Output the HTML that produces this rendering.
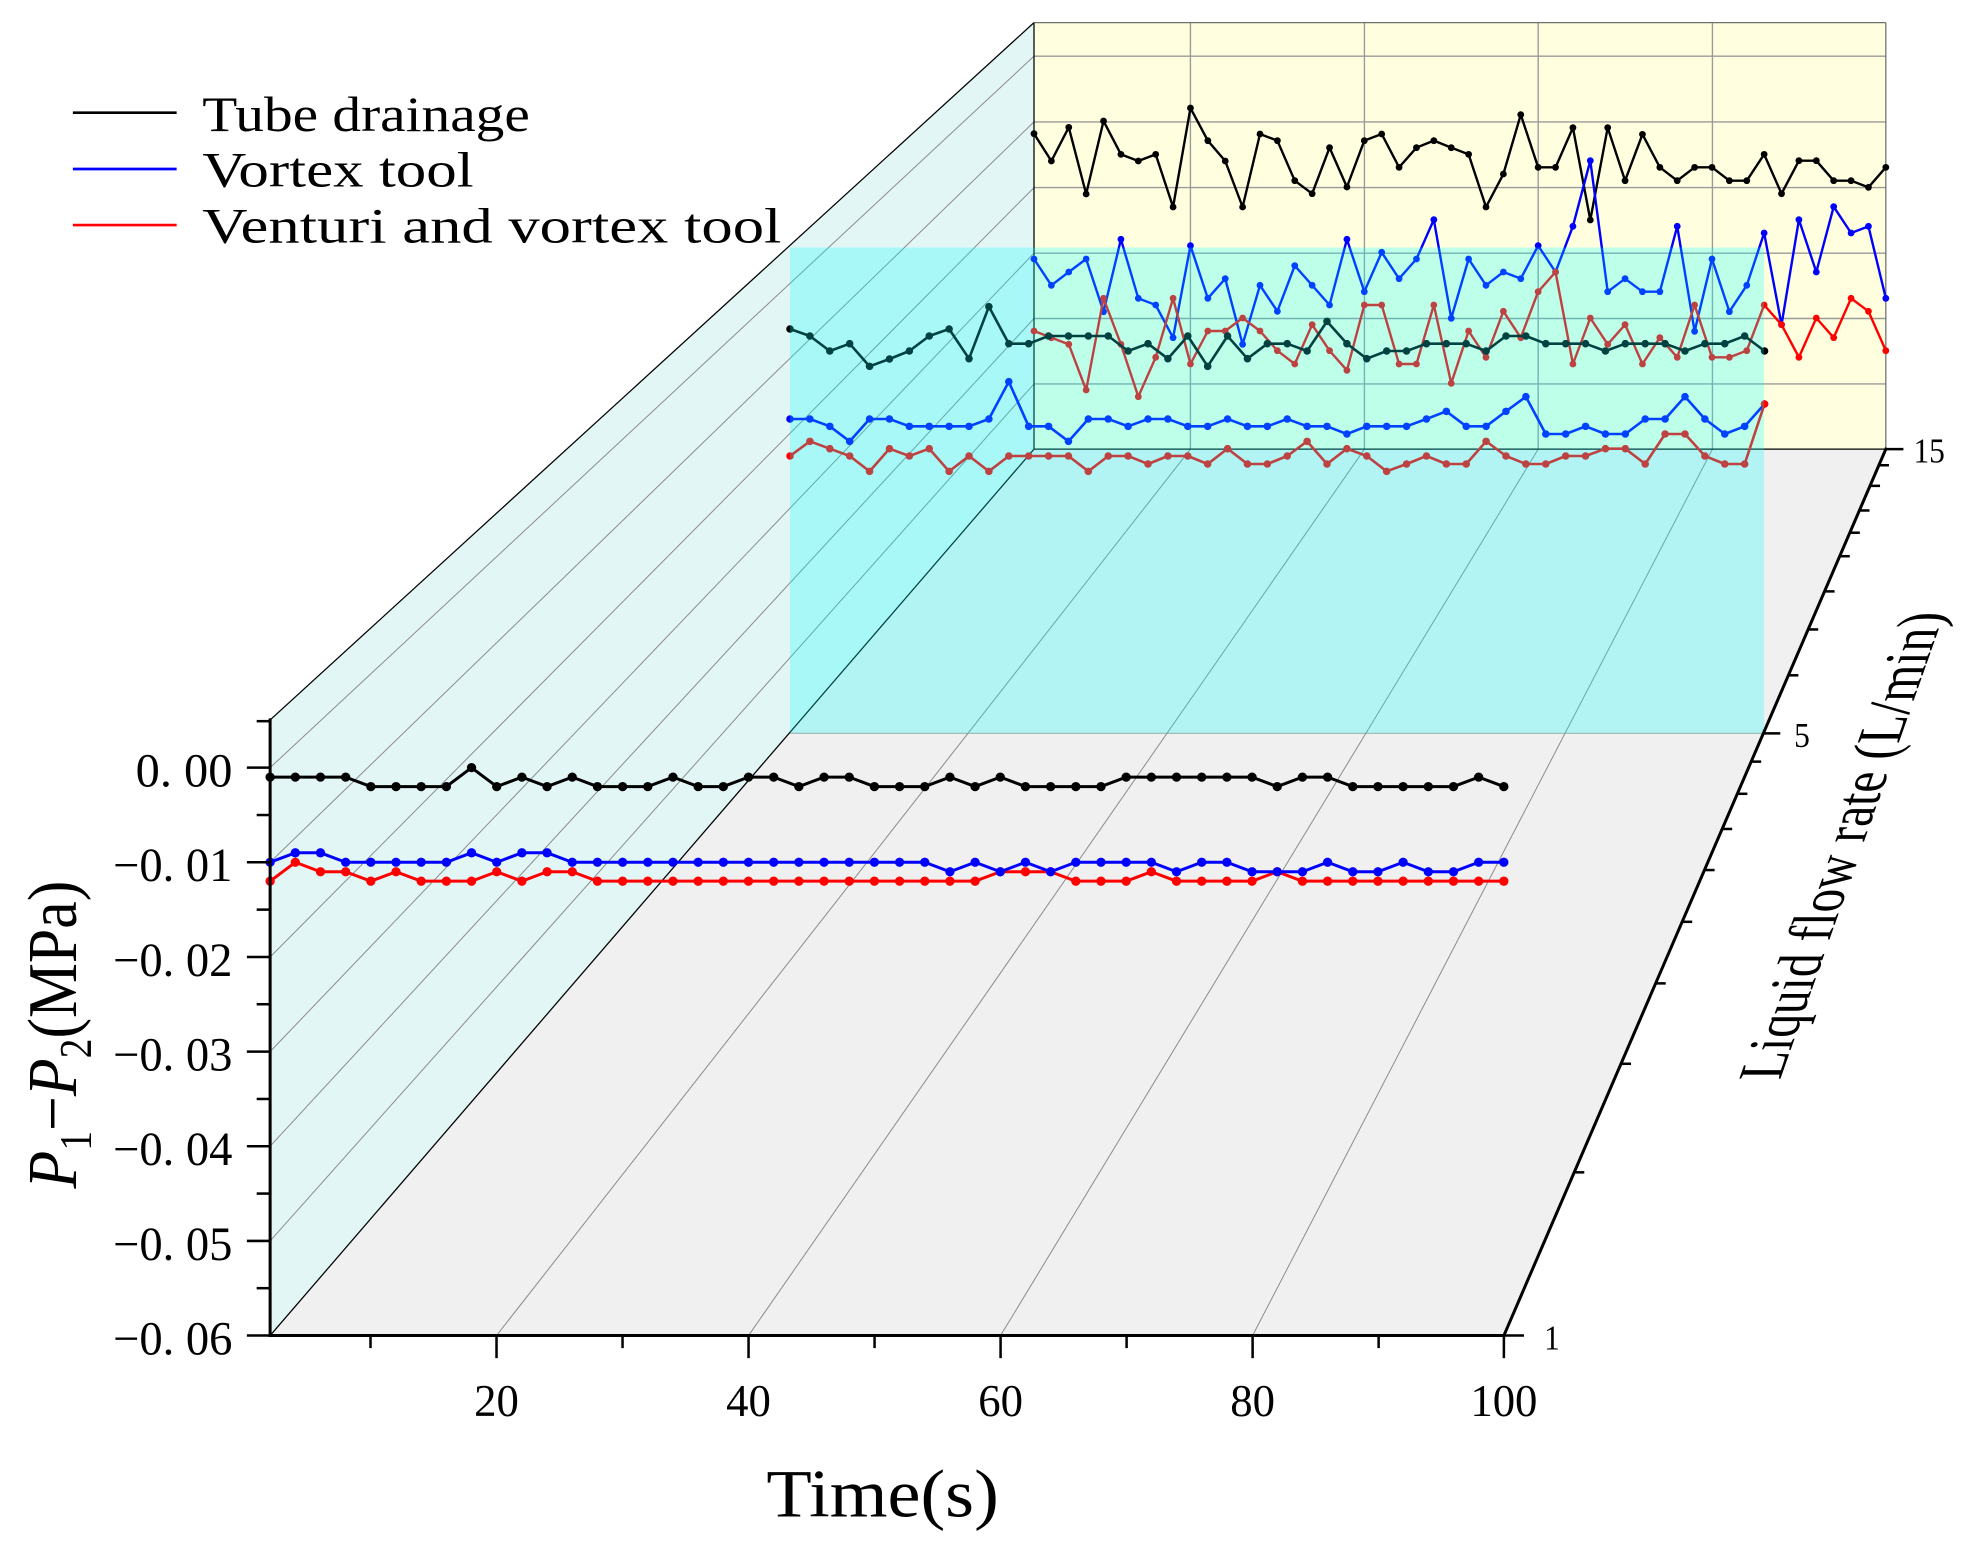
<!DOCTYPE html>
<html>
<head>
<meta charset="utf-8">
<style>
html,body{margin:0;padding:0;background:#fff;}
svg{display:block;}
</style>
</head>
<body>
<svg xmlns="http://www.w3.org/2000/svg" width="1970" height="1547" viewBox="0 0 1568 1231.3">
<defs>
  <marker id="fk" markerUnits="userSpaceOnUse" style="overflow:visible" markerWidth="1" markerHeight="1"><ellipse rx="0.185" ry="0.49" fill="#000"/></marker>
  <marker id="fb" markerUnits="userSpaceOnUse" style="overflow:visible" markerWidth="1" markerHeight="1"><ellipse rx="0.185" ry="0.49" fill="#0000ff"/></marker>
  <marker id="fr" markerUnits="userSpaceOnUse" style="overflow:visible" markerWidth="1" markerHeight="1"><ellipse rx="0.185" ry="0.49" fill="#ff0000"/></marker>
  <marker id="mk" markerUnits="userSpaceOnUse" style="overflow:visible" markerWidth="1" markerHeight="1"><ellipse rx="0.19" ry="11.3" fill="#000"/></marker>
  <marker id="mb" markerUnits="userSpaceOnUse" style="overflow:visible" markerWidth="1" markerHeight="1"><ellipse rx="0.19" ry="11.3" fill="#0000ff"/></marker>
  <marker id="mr" markerUnits="userSpaceOnUse" style="overflow:visible" markerWidth="1" markerHeight="1"><ellipse rx="0.19" ry="11.3" fill="#ff0000"/></marker>
  <marker id="bk" markerUnits="userSpaceOnUse" style="overflow:visible" markerWidth="1" markerHeight="1"><ellipse rx="0.195" ry="10.2" fill="#000"/></marker>
  <marker id="bb" markerUnits="userSpaceOnUse" style="overflow:visible" markerWidth="1" markerHeight="1"><ellipse rx="0.195" ry="10.2" fill="#0000ff"/></marker>
  <marker id="br" markerUnits="userSpaceOnUse" style="overflow:visible" markerWidth="1" markerHeight="1"><ellipse rx="0.195" ry="10.2" fill="#ff0000"/></marker>
</defs>

<polygon points="215,1063 1197,1063 1501,357.5 823,357.5" fill="#f0f0f0"/>
<polygon points="215,1063 215,573 823,18 823,357.5" fill="#e3f6f6"/>
<rect x="823" y="18" width="678" height="339.5" fill="#ffffe0"/>

<g stroke="#9a9a9a" stroke-width="1.1" fill="none">
  <line x1="823" y1="44.7" x2="1501" y2="44.7"/>
  <line x1="823" y1="97" x2="1501" y2="97"/>
  <line x1="823" y1="149.3" x2="1501" y2="149.3"/>
  <line x1="823" y1="201.5" x2="1501" y2="201.5"/>
  <line x1="823" y1="253.5" x2="1501" y2="253.5"/>
  <line x1="823" y1="305.6" x2="1501" y2="305.6"/>
  <line x1="947.5" y1="18" x2="947.5" y2="357.5"/>
  <line x1="1086" y1="18" x2="1086" y2="357.5"/>
  <line x1="1224.3" y1="18" x2="1224.3" y2="357.5"/>
  <line x1="1363" y1="18" x2="1363" y2="357.5"/>
</g>
<g stroke="#8c8c8c" stroke-width="0.8" fill="none">
  <line x1="215" y1="611" x2="823" y2="44.7"/>
  <line x1="215" y1="686.3" x2="823" y2="97"/>
  <line x1="215" y1="761.7" x2="823" y2="149.3"/>
  <line x1="215" y1="837" x2="823" y2="201.5"/>
  <line x1="215" y1="912.3" x2="823" y2="253.5"/>
  <line x1="215" y1="987.7" x2="823" y2="305.6"/>
  <line x1="395.2" y1="1063" x2="947.5" y2="357.5"/>
  <line x1="595.8" y1="1063" x2="1086" y2="357.5"/>
  <line x1="796.4" y1="1063" x2="1224.3" y2="357.5"/>
  <line x1="997" y1="1063" x2="1363" y2="357.5"/>
</g>
<g stroke="#000" stroke-width="1" fill="none">
  <line x1="215" y1="1063" x2="823" y2="357.5"/>
  <line x1="215" y1="573" x2="823" y2="18"/>
  <line x1="823" y1="18" x2="823" y2="357.5"/>
  <line x1="823" y1="357.5" x2="1501" y2="357.5"/>
</g>
<g stroke="#707070" stroke-width="1" fill="none">
  <line x1="823" y1="18" x2="1501" y2="18"/>
  <line x1="1501" y1="18" x2="1501" y2="357.5"/>
</g>

<g transform="translate(823,71.63) scale(13.837,0.26531)" fill="none" stroke-linejoin="round">
<polyline vector-effect="non-scaling-stroke" stroke="#000" stroke-width="2.4" marker-start="url(#bk)" marker-mid="url(#bk)" marker-end="url(#bk)" points="0,131 1,213 2,112 3,312 4,93 5,193 6,213 7,193 8,351 9,54 10,152 11,213 12,351 13,132 14,152 15,272 16,311 17,173 18,291 19,152 20,132 21,232 22,173 23,152 24,173 25,193 26,351 27,252 28,74 29,232 30,232 31,113 32,390 33,113 34,272 35,133 36,232 37,272 38,232 39,232 40,272 41,272 42,193 43,311 44,212 45,212 46,272 47,272 48,292 49,232"/>
<polyline vector-effect="non-scaling-stroke" stroke="#0000ff" stroke-width="2.4" marker-start="url(#bb)" marker-mid="url(#bb)" marker-end="url(#bb)" points="0,507 1,586 2,546 3,507 4,665 5,448 6,625 7,645 8,743 9,467 10,625 11,566 12,763 13,586 14,664 15,527 16,586 17,645 18,448 19,605 20,487 21,566 22,507 23,389 24,685 25,507 26,586 27,546 28,566 29,467 30,546 31,409 32,212 33,605 34,566 35,605 36,605 37,409 38,724 39,507 40,665 41,586 42,429 43,704 44,389 45,546 46,350 47,429 48,409 49,625"/>
<polyline vector-effect="non-scaling-stroke" stroke="#ff0000" stroke-width="2.4" marker-start="url(#br)" marker-mid="url(#br)" marker-end="url(#br)" points="0,723 1,743 2,763 3,900 4,625 5,763 6,920 7,802 8,625 9,822 10,723 11,723 12,684 13,723 14,782 15,822 16,704 17,782 18,841 19,645 20,645 21,822 22,822 23,645 24,880 25,723 26,802 27,664 28,743 29,605 30,546 31,822 32,684 33,763 34,704 35,822 36,743 37,802 38,645 39,802 40,802 41,782 42,645 43,704 44,802 45,684 46,743 47,625 48,664 49,782"/>
</g>

<g transform="translate(628.8,238.78) scale(15.83,0.26531)" fill="none" stroke-linejoin="round">
<polyline vector-effect="non-scaling-stroke" stroke="#000" stroke-width="2.6" marker-start="url(#mk)" marker-mid="url(#mk)" marker-end="url(#mk)" points="0,87 1,108 2,153 3,131 4,199 5,177 6,153 7,108 8,87 9,176 10,20 11,131 12,131 13,108 14,108 15,108 16,108 17,153 18,131 19,176 20,108 21,199 22,108 23,176 24,131 25,131 26,153 27,64 28,131 29,176 30,153 31,153 32,131 33,131 34,131 35,153 36,108 37,108 38,131 39,131 40,131 41,153 42,131 43,131 44,131 45,153 46,131 47,131 48,108 49,153"/>
<polyline vector-effect="non-scaling-stroke" stroke="#0000ff" stroke-width="2.6" marker-start="url(#mb)" marker-mid="url(#mb)" marker-end="url(#mb)" points="0,357 1,357 2,379 3,424 4,357 5,357 6,379 7,379 8,379 9,379 10,357 11,245 12,379 13,379 14,424 15,357 16,357 17,379 18,357 19,357 20,379 21,379 22,357 23,379 24,379 25,357 26,379 27,379 28,402 29,379 30,379 31,379 32,357 33,334 34,379 35,379 36,334 37,290 38,402 39,402 40,379 41,402 42,402 43,357 44,357 45,290 46,357 47,402 48,379 49,312"/>
<polyline vector-effect="non-scaling-stroke" stroke="#ff0000" stroke-width="2.6" marker-start="url(#mr)" marker-mid="url(#mr)" marker-end="url(#mr)" points="0,468 1,424 2,446 3,468 4,514 5,446 6,468 7,446 8,514 9,468 10,514 11,468 12,468 13,468 14,468 15,514 16,468 17,468 18,492 19,468 20,468 21,492 22,446 23,492 24,492 25,468 26,424 27,492 28,446 29,468 30,514 31,492 32,468 33,492 34,492 35,424 36,468 37,492 38,492 39,468 40,468 41,446 42,446 43,492 44,402 45,402 46,468 47,492 48,492 49,312"/>
</g>

<rect x="628.8" y="197" width="775.2" height="386.7" fill="rgba(0,255,255,0.26)"/>
<line x1="628.8" y1="583.7" x2="1404" y2="583.7" stroke="rgba(130,150,150,0.6)" stroke-width="1"/>

<g transform="translate(215,611) scale(20.04,7.53)" fill="none" stroke-linejoin="round">
<polyline vector-effect="non-scaling-stroke" stroke="#000" stroke-width="3" marker-start="url(#fk)" marker-mid="url(#fk)" marker-end="url(#fk)" points="0,1 1,1 2,1 3,1 4,2 5,2 6,2 7,2 8,0 9,2 10,1 11,2 12,1 13,2 14,2 15,2 16,1 17,2 18,2 19,1 20,1 21,2 22,1 23,1 24,2 25,2 26,2 27,1 28,2 29,1 30,2 31,2 32,2 33,2 34,1 35,1 36,1 37,1 38,1 39,1 40,2 41,1 42,1 43,2 44,2 45,2 46,2 47,2 48,1 49,2"/>
<polyline vector-effect="non-scaling-stroke" stroke="#ff0000" stroke-width="3" marker-start="url(#fr)" marker-mid="url(#fr)" marker-end="url(#fr)" points="0,12 1,10 2,11 3,11 4,12 5,11 6,12 7,12 8,12 9,11 10,12 11,11 12,11 13,12 14,12 15,12 16,12 17,12 18,12 19,12 20,12 21,12 22,12 23,12 24,12 25,12 26,12 27,12 28,12 29,11 30,11 31,11 32,12 33,12 34,12 35,11 36,12 37,12 38,12 39,12 40,11 41,12 42,12 43,12 44,12 45,12 46,12 47,12 48,12 49,12"/>
<polyline vector-effect="non-scaling-stroke" stroke="#0000ff" stroke-width="3" marker-start="url(#fb)" marker-mid="url(#fb)" marker-end="url(#fb)" points="0,10 1,9 2,9 3,10 4,10 5,10 6,10 7,10 8,9 9,10 10,9 11,9 12,10 13,10 14,10 15,10 16,10 17,10 18,10 19,10 20,10 21,10 22,10 23,10 24,10 25,10 26,10 27,11 28,10 29,11 30,10 31,11 32,10 33,10 34,10 35,10 36,11 37,10 38,10 39,11 40,11 41,11 42,10 43,11 44,11 45,10 46,11 47,11 48,10 49,10"/>
</g>

<g stroke="#000" fill="none" stroke-linecap="square">
  <line x1="215" y1="573" x2="215" y2="1063" stroke-width="2.4"/>
  <line x1="215" y1="1063" x2="1197" y2="1063" stroke-width="2.4"/>
  <line x1="1197" y1="1063" x2="1501" y2="357.5" stroke-width="2.4"/>
</g>
<g stroke="#000" stroke-width="2">
  <line x1="196.5" y1="611" x2="215" y2="611"/>
  <line x1="196.5" y1="686.3" x2="215" y2="686.3"/>
  <line x1="196.5" y1="761.7" x2="215" y2="761.7"/>
  <line x1="196.5" y1="837" x2="215" y2="837"/>
  <line x1="196.5" y1="912.3" x2="215" y2="912.3"/>
  <line x1="196.5" y1="987.7" x2="215" y2="987.7"/>
  <line x1="196.5" y1="1063" x2="215" y2="1063"/>
  <line x1="204.3" y1="574" x2="215" y2="574"/>
  <line x1="204.3" y1="648.7" x2="215" y2="648.7"/>
  <line x1="204.3" y1="724" x2="215" y2="724"/>
  <line x1="204.3" y1="799.3" x2="215" y2="799.3"/>
  <line x1="204.3" y1="874.7" x2="215" y2="874.7"/>
  <line x1="204.3" y1="950" x2="215" y2="950"/>
  <line x1="204.3" y1="1025.3" x2="215" y2="1025.3"/>
  <line x1="395.2" y1="1063" x2="395.2" y2="1081"/>
  <line x1="595.8" y1="1063" x2="595.8" y2="1081"/>
  <line x1="796.4" y1="1063" x2="796.4" y2="1081"/>
  <line x1="997" y1="1063" x2="997" y2="1081"/>
  <line x1="1197" y1="1063" x2="1197" y2="1081"/>
  <line x1="294.9" y1="1063" x2="294.9" y2="1073"/>
  <line x1="495.5" y1="1063" x2="495.5" y2="1073"/>
  <line x1="696.1" y1="1063" x2="696.1" y2="1073"/>
  <line x1="896.7" y1="1063" x2="896.7" y2="1073"/>
  <line x1="1097.3" y1="1063" x2="1097.3" y2="1073"/>
  <line x1="1197" y1="1063" x2="1213" y2="1063"/>
  <line x1="1403.5" y1="583.7" x2="1417" y2="583.7"/>
  <line x1="1501" y1="357.5" x2="1515" y2="357.5"/>
  <line x1="1253" y1="933.1" x2="1261" y2="933.1"/>
  <line x1="1290.2" y1="846.7" x2="1298.2" y2="846.7"/>
  <line x1="1317.8" y1="782.7" x2="1325.8" y2="782.7"/>
  <line x1="1338.9" y1="733.7" x2="1346.9" y2="733.7"/>
  <line x1="1356.7" y1="692.5" x2="1364.7" y2="692.5"/>
  <line x1="1370.7" y1="659.8" x2="1378.7" y2="659.8"/>
  <line x1="1382.8" y1="631.8" x2="1390.8" y2="631.8"/>
  <line x1="1393.8" y1="606.2" x2="1401.8" y2="606.2"/>
  <line x1="1423.4" y1="537.5" x2="1431.4" y2="537.5"/>
  <line x1="1439.2" y1="501" x2="1447.2" y2="501"/>
  <line x1="1452.2" y1="470.7" x2="1460.2" y2="470.7"/>
  <line x1="1464.3" y1="442.7" x2="1472.3" y2="442.7"/>
  <line x1="1472.3" y1="424" x2="1480.3" y2="424"/>
  <line x1="1480" y1="406.3" x2="1488" y2="406.3"/>
  <line x1="1488.4" y1="386.7" x2="1496.4" y2="386.7"/>
  <line x1="1495.5" y1="370.3" x2="1503.5" y2="370.3"/>
</g>

<g font-family="'Liberation Serif', serif" font-size="38" fill="#000" text-anchor="end">
  <text x="185" y="626" textLength="77" lengthAdjust="spacingAndGlyphs">0. 00</text>
  <text x="185" y="701.3" textLength="95" lengthAdjust="spacingAndGlyphs">−0. 01</text>
  <text x="185" y="776.7" textLength="95" lengthAdjust="spacingAndGlyphs">−0. 02</text>
  <text x="185" y="852" textLength="95" lengthAdjust="spacingAndGlyphs">−0. 03</text>
  <text x="185" y="927.3" textLength="95" lengthAdjust="spacingAndGlyphs">−0. 04</text>
  <text x="185" y="1002.7" textLength="95" lengthAdjust="spacingAndGlyphs">−0. 05</text>
  <text x="185" y="1078" textLength="95" lengthAdjust="spacingAndGlyphs">−0. 06</text>
</g>
<g font-family="'Liberation Serif', serif" font-size="36" fill="#000" text-anchor="middle">
  <text x="395.2" y="1127" textLength="35.6" lengthAdjust="spacingAndGlyphs">20</text>
  <text x="595.8" y="1127" textLength="35.6" lengthAdjust="spacingAndGlyphs">40</text>
  <text x="796.4" y="1127" textLength="35.6" lengthAdjust="spacingAndGlyphs">60</text>
  <text x="997" y="1127" textLength="35.6" lengthAdjust="spacingAndGlyphs">80</text>
  <text x="1197" y="1127" textLength="53.4" lengthAdjust="spacingAndGlyphs">100</text>
</g>
<g font-family="'Liberation Serif', serif" font-size="28" fill="#000">
  <text x="1523" y="368" textLength="25" lengthAdjust="spacingAndGlyphs">15</text>
  <text x="1428" y="594.5" textLength="12.5" lengthAdjust="spacingAndGlyphs">5</text>
  <text x="1229" y="1074" textLength="12.5" lengthAdjust="spacingAndGlyphs">1</text>
</g>

<text x="610" y="1207" font-family="'Liberation Serif', serif" font-size="54" fill="#000" textLength="185" lengthAdjust="spacingAndGlyphs">Time(s)</text>
<text transform="matrix(0.332,-0.943,1,0,1416.8,859.6)" font-family="'Liberation Serif', serif" font-size="50" fill="#000" textLength="395" lengthAdjust="spacingAndGlyphs">Liquid flow rate (L/min)</text>
<text transform="translate(60.5,946) rotate(-90)" font-family="'Liberation Serif', serif" font-size="56" fill="#000" textLength="245" lengthAdjust="spacingAndGlyphs"><tspan font-style="italic">P</tspan><tspan font-size="36" dy="12">1</tspan><tspan dy="-12">−</tspan><tspan font-style="italic">P</tspan><tspan font-size="36" dy="12">2</tspan><tspan dy="-12">(MPa)</tspan></text>

<g stroke-width="2.1">
  <line x1="58" y1="89.7" x2="140.6" y2="89.7" stroke="#000"/>
  <line x1="58" y1="134.5" x2="140.6" y2="134.5" stroke="#0000ff"/>
  <line x1="58" y1="179.1" x2="140.6" y2="179.1" stroke="#ff0000"/>
</g>
<g font-family="'Liberation Serif', serif" font-size="40" fill="#000">
  <text x="161" y="104.3" textLength="260.7" lengthAdjust="spacingAndGlyphs">Tube drainage</text>
  <text x="161" y="148.6" textLength="216" lengthAdjust="spacingAndGlyphs">Vortex tool</text>
  <text x="161" y="193.2" textLength="461" lengthAdjust="spacingAndGlyphs">Venturi and vortex tool</text>
</g>
</svg>
</body>
</html>
